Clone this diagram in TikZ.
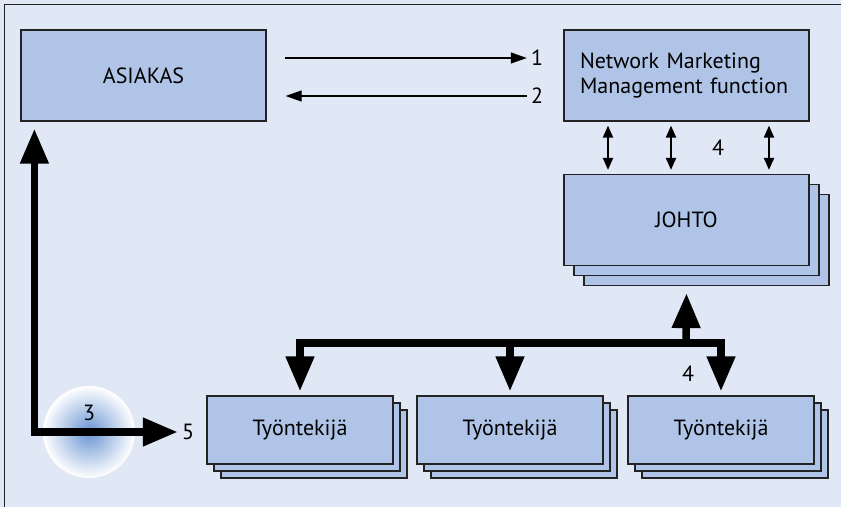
\documentclass[tikz,border=0pt]{standalone}
\usepackage{fontspec}
\setmainfont{PT Sans}
\usetikzlibrary{arrows.meta,shadows,calc}

\definecolor{bgblue}{RGB}{224,231,245}
\definecolor{boxblue}{RGB}{175,196,230}
\definecolor{boxline}{RGB}{35,35,35}
\definecolor{glowblue}{RGB}{105,148,210}

\begin{document}
\begin{tikzpicture}[x=1pt,y=-1pt,font=\fontsize{22}{25}\selectfont]

        % Setup the styles
        \tikzset{box style/.style={draw=boxline, fill=boxblue,
                                   line width=1.2pt,
                                   minimum width=245pt,
                                   minimum height=91pt,
                                   inner sep=0pt},
                 stack style/.style={box style,
                                     double copy shadow={shadow xshift=#1,
                                                         shadow yshift=-#1,
                                                         draw=boxline,
                                                         fill=boxblue,
                                                         line width=1.2pt}},
                 worker style/.style={stack style=7pt,
                                      minimum width=186pt,
                                      minimum height=68pt},
                 thick arrow/.style={line width=7.5pt, ->,
                                     >={Triangle[width=27pt,length=35pt]}},
                 thin arrow/.style={line width=1.2pt, ->,
                                    >={Triangle[width=11pt,length=16pt]}},
                 small arrow/.style={line width=2pt, <->,
                                     >={Triangle[width=10pt,length=12pt]}},
                 label style/.style={inner sep=4pt}}

        % Background and frame
        \useasboundingbox (0,0) rectangle (841,507);
        \fill[bgblue] (0,0) rectangle (841,507);
        \draw[boxline, line width=1.2pt] (4.5,507) |- (841,4.5);

        % Draw the boxes
        \node[box style] at (143.5,75.5) (asiakas) {ASIAKAS};
        \node[box style, align=left, text width=213pt, inner xsep=16pt]
            at (686.5,75.5) (nmm) {Network Marketing\\Management function};
        \node[stack style=10pt] at (686.5,220) (johto) {JOHTO};
        \node[worker style] at (300,430) (w1) {Työntekijä};
        \node[worker style] at (510,430) (w2) {Työntekijä};
        \node[worker style] at (721,430) (w3) {Työntekijä};

        % Glow behind the customer path
        \node[circle, minimum size=92pt, inner color=glowblue,
              outer color=white] at (89,432) (glow) {};

        % Labels
        \node[label style] at (537,58)  (l1)  {1};
        \node[label style] at (537,96)  (l2)  {2};
        \node[label style] at (89,413)  (l3)  {3};
        \node[label style] at (718,148) (l4a) {4};
        \node[label style] at (688,374) (l4b) {4};
        \node[label style] at (188,432) (l5)  {5};

        % Connect the boxes
        \draw[thin arrow] ([xshift=18pt,yshift=17.5pt]asiakas.east) -- (l1);
        \draw[thin arrow] (l2) -- ([xshift=19pt,yshift=-20.5pt]asiakas.east);

        \draw[small arrow] ([xshift=-78.5pt,yshift=-4pt]nmm.south)
            -- ([xshift=-78.5pt,yshift=4pt]johto.north);
        \draw[small arrow] ([xshift=-15.5pt,yshift=-4pt]nmm.south)
            -- ([xshift=-15.5pt,yshift=4pt]johto.north);
        \draw[small arrow] ([xshift=82.5pt,yshift=-4pt]nmm.south)
            -- ([xshift=82.5pt,yshift=4pt]johto.north);

        \coordinate (bus) at (686,343);
        \coordinate (johto stack) at ($(johto.south)+(0,27)$);
        \draw[thick arrow] (bus) -- (johto stack);
        \draw[thick arrow] (bus) -| ([yshift=4pt]w1.north);
        \draw[thick arrow] (bus) -| ([yshift=4pt]w2.north);
        \draw[thick arrow] (bus) -| ([yshift=4pt]w3.north);

        \draw[thick arrow, <->] ([xshift=14pt,yshift=-7pt]asiakas.south west)
            |- (l5);
\end{tikzpicture}
\end{document}
